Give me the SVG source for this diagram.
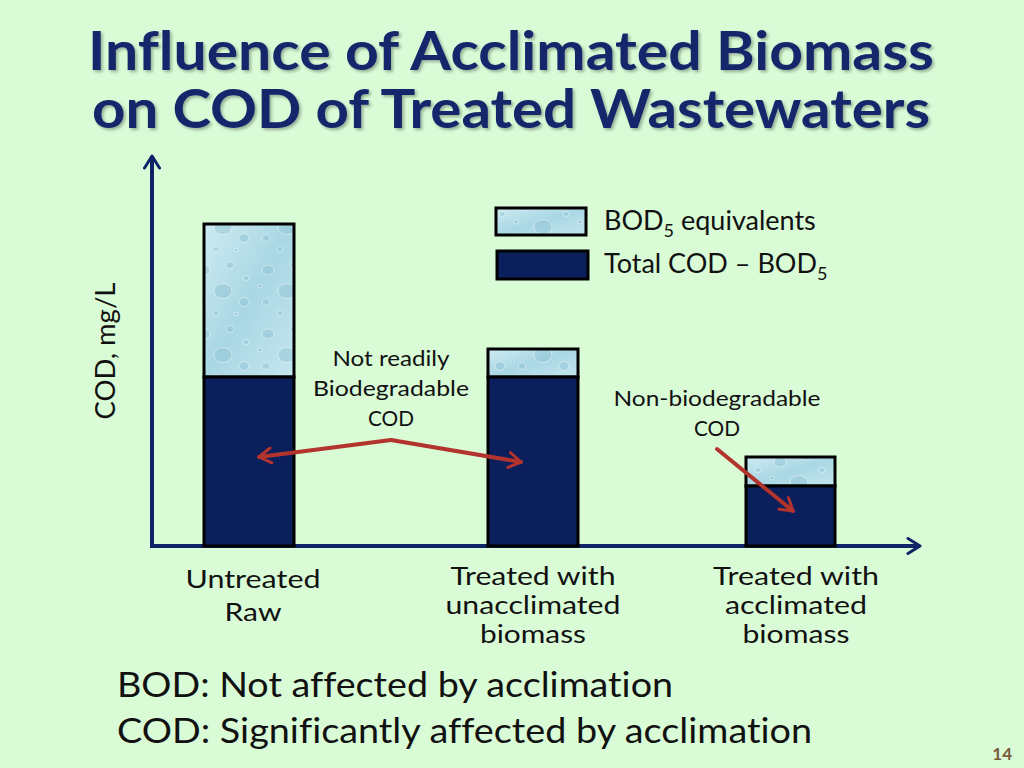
<svg xmlns="http://www.w3.org/2000/svg" width="1024" height="768" viewBox="0 0 1024 768">
<defs>
<style>
text{font-variant-ligatures:none}
.t{font-family:Lato,"Open Sans","Liberation Sans",sans-serif;fill:#111}
.title{font-family:Lato,"Open Sans",sans-serif;font-weight:bold;font-size:53px;fill:#16286b}
.bar{stroke:#000;stroke-width:3}
.dark{fill:#0a1f5c}
.grad{fill:url(#wg)}
.wet{fill:url(#drops)}
.axis{stroke:#0e2466;stroke-width:4;fill:none}
.red{stroke:#b3332d;stroke-width:4;fill:none;stroke-linecap:round}
</style>
<linearGradient id="wg" x1="0" y1="0" x2="1" y2="1">
<stop offset="0" stop-color="#cdebf2"/>
<stop offset="0.5" stop-color="#a9d7e4"/>
<stop offset="1" stop-color="#c4e6ef"/>
</linearGradient>
<pattern id="drops" patternUnits="userSpaceOnUse" width="64" height="64">
<g fill="#8fc2d2" fill-opacity="0.45" stroke="#ffffff" stroke-opacity="0.55" stroke-width="0.8">
<ellipse cx="12" cy="14" rx="6" ry="5"/>
<ellipse cx="38" cy="9" rx="4" ry="3.5"/>
<ellipse cx="31" cy="35" rx="9" ry="7.5"/>
<ellipse cx="52" cy="46" rx="5" ry="4.5"/>
<ellipse cx="10" cy="46" rx="4" ry="3.5"/>
<ellipse cx="54" cy="22" rx="3" ry="2.5"/>
<ellipse cx="24" cy="57" rx="3" ry="2.5"/>
<ellipse cx="44" cy="58" rx="2" ry="1.8"/>
<ellipse cx="4" cy="30" rx="2.5" ry="2"/>
</g>
</pattern>
<marker id="chevA" viewBox="0 0 12 12" refX="10" refY="6" markerWidth="4.5" markerHeight="4.5" orient="auto" markerUnits="strokeWidth">
<path d="M2,1 L10,6 L2,11" fill="none" stroke="#0e2466" stroke-width="2" stroke-linecap="round" stroke-linejoin="round"/>
</marker>
<marker id="chevR" viewBox="0 0 12 12" refX="10" refY="6" markerWidth="4.5" markerHeight="4.5" orient="auto" markerUnits="strokeWidth">
<path d="M2,1 L10,6 L2,11" fill="none" stroke="#b3332d" stroke-width="2" stroke-linecap="round" stroke-linejoin="round"/>
</marker>
<filter id="sh" x="-5%" y="-5%" width="110%" height="120%">
<feDropShadow dx="2" dy="2" stdDeviation="1.5" flood-color="#000" flood-opacity="0.3"/>
</filter>
</defs>
<rect width="1024" height="768" fill="#d9fbd6"/>
<g id="title" filter="url(#sh)">
<text class="title" x="511" y="70" text-anchor="middle" textLength="846" lengthAdjust="spacingAndGlyphs">Influence of Acclimated Biomass</text>
<text class="title" x="511" y="128" text-anchor="middle" textLength="838" lengthAdjust="spacingAndGlyphs">on COD of Treated Wastewaters</text>
</g>
<g id="axes">
<line class="axis" x1="152" y1="546" x2="152" y2="156" marker-end="url(#chevA)"/>
<line class="axis" x1="150" y1="546" x2="920" y2="546" marker-end="url(#chevA)"/>
</g>
<text class="t" font-size="27" transform="translate(115,351) rotate(-90)" text-anchor="middle" textLength="137" lengthAdjust="spacingAndGlyphs">COD, mg/L</text>
<g id="bar1">
<rect class="grad" x="204" y="224" width="90" height="153"/>
<rect class="bar wet" x="204" y="224" width="90" height="153"/>
<rect class="bar dark" x="204" y="377" width="90" height="169"/>
</g>
<g id="bar2">
<rect class="grad" x="488" y="349" width="90" height="28"/>
<rect class="bar wet" x="488" y="349" width="90" height="28"/>
<rect class="bar dark" x="488" y="377" width="90" height="169"/>
</g>
<g id="bar3">
<rect class="grad" x="746" y="457" width="89" height="29"/>
<rect class="bar wet" x="746" y="457" width="89" height="29"/>
<rect class="bar dark" x="746" y="486" width="89" height="60"/>
</g>
<g id="legend">
<rect class="grad" x="496" y="208" width="90" height="27"/>
<rect class="bar wet" x="496" y="208" width="90" height="27"/>
<rect class="bar dark" x="497" y="251" width="91" height="28"/>
<text class="t" font-size="27" x="604" y="230">BOD<tspan font-size="18" dy="7">5</tspan><tspan dy="-7"> equivalents</tspan></text>
<text class="t" font-size="27" x="604" y="273">Total COD – BOD<tspan font-size="18" dy="7">5</tspan></text>
</g>
<g id="label-notreadily">
<text class="t" font-size="22" text-anchor="middle" x="391" y="366" textLength="117" lengthAdjust="spacingAndGlyphs">Not readily</text>
<text class="t" font-size="22" text-anchor="middle" x="391" y="396" textLength="156" lengthAdjust="spacingAndGlyphs">Biodegradable</text>
<text class="t" font-size="22" text-anchor="middle" x="391" y="426" textLength="46" lengthAdjust="spacingAndGlyphs">COD</text>
</g>
<g id="label-nonbio">
<text class="t" font-size="22" text-anchor="middle" x="717" y="406" textLength="207" lengthAdjust="spacingAndGlyphs">Non-biodegradable</text>
<text class="t" font-size="22" text-anchor="middle" x="717" y="436" textLength="46" lengthAdjust="spacingAndGlyphs">COD</text>
</g>
<g id="connectors">
<line class="red" x1="391" y1="440" x2="259" y2="457" marker-end="url(#chevR)"/>
<line class="red" x1="391" y1="440" x2="521" y2="462" marker-end="url(#chevR)"/>
<line class="red" x1="717" y1="449" x2="793" y2="511" marker-end="url(#chevR)"/>
</g>
<g id="categories">
<text class="t" font-size="25" text-anchor="middle" x="253" y="588" textLength="135" lengthAdjust="spacingAndGlyphs">Untreated</text>
<text class="t" font-size="25" text-anchor="middle" x="253" y="621" textLength="57" lengthAdjust="spacingAndGlyphs">Raw</text>
<text class="t" font-size="25" text-anchor="middle" x="533" y="585" textLength="165" lengthAdjust="spacingAndGlyphs">Treated with</text>
<text class="t" font-size="25" text-anchor="middle" x="533" y="614" textLength="175" lengthAdjust="spacingAndGlyphs">unacclimated</text>
<text class="t" font-size="25" text-anchor="middle" x="533" y="643" textLength="106" lengthAdjust="spacingAndGlyphs">biomass</text>
<text class="t" font-size="25" text-anchor="middle" x="796" y="585" textLength="166" lengthAdjust="spacingAndGlyphs">Treated with</text>
<text class="t" font-size="25" text-anchor="middle" x="796" y="614" textLength="142" lengthAdjust="spacingAndGlyphs">acclimated</text>
<text class="t" font-size="25" text-anchor="middle" x="796" y="643" textLength="107" lengthAdjust="spacingAndGlyphs">biomass</text>
</g>
<g id="notes">
<text class="t" font-size="35" x="117" y="697" textLength="556" lengthAdjust="spacingAndGlyphs">BOD: Not affected by acclimation</text>
<text class="t" font-size="35" x="117" y="743" textLength="695" lengthAdjust="spacingAndGlyphs">COD: Significantly affected by acclimation</text>
</g>
<text font-family="Lato,'Open Sans',sans-serif" font-weight="bold" font-size="17" fill="#7a5a3a" x="1012" y="760" text-anchor="end">14</text>
</svg>
